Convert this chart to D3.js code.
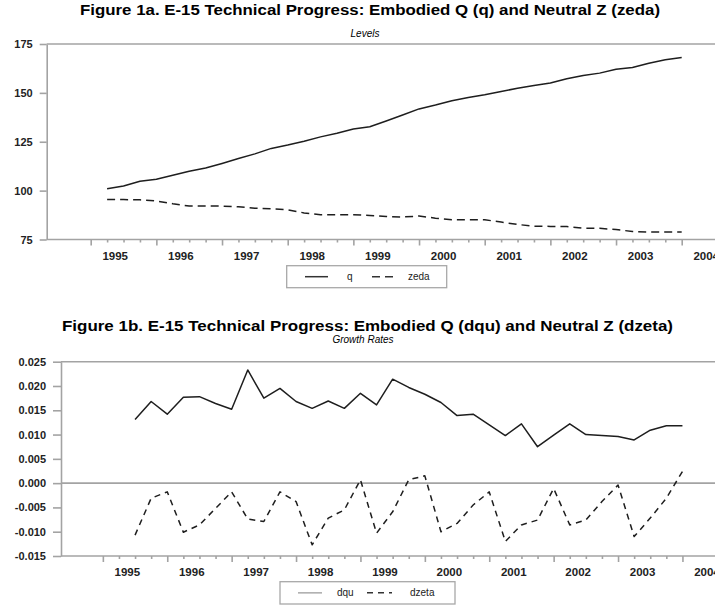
<!DOCTYPE html>
<html>
<head>
<meta charset="utf-8">
<script src="https://cdn.jsdelivr.net/npm/d3@7"></script>
<style>
  body { margin: 0; background: #fff; }
  svg { display: block; font-family: 'Liberation Sans', Arial, sans-serif; }
</style>
</head>
<body>
<div id="chart"></div>
<script>
// quarterly observations, 1995Q1 .. 2003Q4
const years = [1995, 1996, 1997, 1998, 1999, 2000, 2001, 2002, 2003];
const tickYears = [1995, 1996, 1997, 1998, 1999, 2000, 2001, 2002, 2003, 2004];
const quarters = years.flatMap((y) => [1, 2, 3, 4].map((q) => `${y}Q${q}`));

// levels
const qLevels = [101.0, 102.4, 104.8, 105.8, 107.9, 109.9, 111.6, 113.9, 116.4, 118.8, 121.6, 123.3,
  125.3, 127.5, 129.3, 131.5, 132.7, 135.6, 138.7, 141.8, 143.8, 146.0, 147.6, 149.0,
  150.7, 152.4, 153.8, 155.0, 157.2, 158.9, 160.1, 162.1, 163.0, 165.2, 166.9, 168.1];
const zedaLevels = [95.4, 95.4, 95.3, 94.7, 93.3, 92.1, 92.1, 92.1, 91.7, 91.0, 90.7, 90.2,
  88.6, 87.7, 87.7, 87.7, 87.3, 86.8, 86.5, 87.0, 85.9, 85.1, 85.1, 85.1,
  83.9, 82.7, 81.8, 81.7, 81.6, 80.8, 80.7, 80.1, 79.1, 78.8, 78.8, 78.8];

// growth rates (start 1995Q2)
const dquRates = [0.0131, 0.0168, 0.0142, 0.0177, 0.0178, 0.0164, 0.0152, 0.0233, 0.0175, 0.0195,
  0.0168, 0.0154, 0.0169, 0.0154, 0.0185, 0.0161, 0.0214, 0.0197, 0.0183, 0.0166,
  0.0139, 0.0142, 0.0120, 0.0098, 0.0122, 0.0075, 0.0099, 0.0122, 0.0100, 0.0098,
  0.0096, 0.0089, 0.0109, 0.0118, 0.0118];
const dzetaRates = [-0.0107, -0.0031, -0.0018, -0.0101, -0.0086, -0.0052, -0.0018, -0.0074, -0.0079, -0.0018,
  -0.0038, -0.0127, -0.0072, -0.0055, 0.0007, -0.0103, -0.0059, 0.0007, 0.0015, -0.0100,
  -0.0083, -0.0045, -0.0018, -0.0120, -0.0086, -0.0076, -0.0011, -0.0086, -0.0076, -0.0038,
  -0.0004, -0.0110, -0.0072, -0.0031, 0.0024];

const levelTicks = [75, 100, 125, 150, 175];
const rateTicks = [-0.015, -0.010, -0.005, 0.000, 0.005, 0.010, 0.015, 0.020, 0.025];

// 1995Q1 is plotted at the end of the quarter
const qTime = (label) => +label.slice(0, 4) + +label.slice(5) / 4;

const width = 715;
const height = 607;
const axisColor = '#a3a3a3';
const lineColor = '#1e1e1e';

const svg = d3.select('#chart')
  .append('svg')
  .attr('width', width)
  .attr('height', height);

function drawPanel(cfg) {
  const x = d3.scaleLinear().domain(cfg.xDomain).range(cfg.xRange);
  const y = d3.scaleLinear().domain(cfg.yDomain).range(cfg.yRange);
  const g = svg.append('g');

  g.append('text')
    .attr('x', cfg.titleX)
    .attr('y', cfg.titleY)
    .attr('text-anchor', 'middle')
    .attr('font-size', 14.5)
    .attr('font-weight', 'bold')
    .attr('textLength', cfg.titleLength)
    .attr('lengthAdjust', 'spacingAndGlyphs')
    .text(cfg.title);

  g.append('text')
    .attr('x', cfg.subX)
    .attr('y', cfg.subY)
    .attr('text-anchor', 'middle')
    .attr('font-size', 10)
    .attr('font-style', 'italic')
    .text(cfg.subtitle);

  // frame top line
  g.append('line')
    .attr('x1', cfg.xRange[0]).attr('x2', width)
    .attr('y1', cfg.yRange[1]).attr('y2', cfg.yRange[1])
    .attr('stroke', axisColor)
    .attr('stroke-width', 1.6);

  const yAxis = g.append('g')
    .attr('transform', `translate(${cfg.xRange[0]},0)`)
    .call(d3.axisLeft(y).tickValues(cfg.yTicks).tickSize(cfg.yTickSize)
      .tickPadding(cfg.yPad).tickFormat(cfg.yFormat).tickSizeOuter(0));
  yAxis.selectAll('text')
    .attr('font-size', 11)
    .attr('font-weight', 'bold')
    .attr('fill', '#222');

  const minor = [];
  years.forEach((yr) => { minor.push(yr + 0.25, yr + 0.5, yr + 0.75); });
  g.append('g')
    .attr('transform', `translate(0,${cfg.yRange[0]})`)
    .call(d3.axisBottom(x).tickValues(minor).tickSize(3).tickFormat(''))
    .call((a) => a.select('.domain').remove());

  const xAxis = g.append('g')
    .attr('transform', `translate(0,${cfg.yRange[0]})`)
    .call(d3.axisBottom(x).tickValues(tickYears).tickSize(6).tickPadding(6)
      .tickFormat(d3.format('d')).tickSizeOuter(0));
  xAxis.select('.domain').attr('d', `M${cfg.xRange[0]},0H${width}`);
  xAxis.selectAll('text')
    .attr('dx', 24)
    .attr('font-size', 11.5)
    .attr('font-weight', 'bold')
    .attr('fill', '#222');

  g.selectAll('.domain, .tick line')
    .attr('stroke', axisColor)
    .attr('stroke-width', 1.6);

  if (cfg.zeroLine) {
    g.append('line')
      .attr('x1', cfg.xRange[0]).attr('x2', width)
      .attr('y1', y(0)).attr('y2', y(0))
      .attr('stroke', axisColor)
      .attr('stroke-width', 1.6);
  }

  const line = d3.line()
    .x((d) => x(qTime(d.t)))
    .y((d) => y(d.v));

  cfg.series.forEach((s) => {
    g.append('path')
      .datum(s.labels.map((t, i) => ({ t, v: s.values[i] })))
      .attr('fill', 'none')
      .attr('stroke', lineColor)
      .attr('stroke-width', 1.5)
      .attr('stroke-dasharray', s.dash)
      .attr('stroke-linejoin', 'round')
      .attr('d', line);
  });

  // legend
  const lg = cfg.legend;
  g.append('rect')
    .attr('x', lg.x).attr('y', lg.y)
    .attr('width', lg.w).attr('height', lg.h)
    .attr('fill', '#fff')
    .attr('stroke', '#a8a8a8')
    .attr('stroke-width', 1.3);
  const cy = lg.y + lg.h / 2;
  cfg.series.forEach((s, i) => {
    const item = lg.items[i];
    g.append('line')
      .attr('x1', item.x1).attr('x2', item.x2)
      .attr('y1', cy).attr('y2', cy)
      .attr('stroke', item.color)
      .attr('stroke-width', 1.5)
      .attr('stroke-dasharray', s.dash);
    g.append('text')
      .attr('x', item.tx)
      .attr('y', cy + 3.5)
      .attr('font-size', 10)
      .attr('fill', '#222')
      .text(s.name);
  });
}

drawPanel({
  title: 'Figure 1a. E-15 Technical Progress: Embodied Q (q) and Neutral Z (zeda)',
  titleX: 370,
  titleY: 15,
  titleLength: 580,
  subtitle: 'Levels',
  subX: 365,
  subY: 37,
  xDomain: [1994.33, 2004.67],
  xRange: [46.7, 725.7],
  yDomain: [75, 175],
  yRange: [239.5, 44],
  yTicks: levelTicks,
  yTickSize: 7,
  yPad: 7,
  yFormat: d3.format('d'),
  zeroLine: false,
  series: [
    { name: 'q', labels: quarters, values: qLevels, dash: null },
    { name: 'zeda', labels: quarters, values: zedaLevels, dash: '8,5' },
  ],
  legend: {
    x: 286.7, y: 265.7, w: 160, h: 22,
    items: [
      { x1: 305, x2: 328, tx: 347, color: '#333' },
      { x1: 372, x2: 396, tx: 408, color: '#333' },
    ],
  },
});

drawPanel({
  title: 'Figure 1b. E-15 Technical Progress: Embodied Q (dqu) and Neutral Z (dzeta)',
  titleX: 367.5,
  titleY: 330.5,
  titleLength: 611,
  subtitle: 'Growth Rates',
  subX: 363,
  subY: 343,
  xDomain: [1994.35, 2004.65],
  xRange: [61, 724.3],
  yDomain: [-0.015, 0.025],
  yRange: [556, 361.7],
  yTicks: rateTicks,
  yTickSize: 8,
  yPad: 7,
  yFormat: (d) => d.toFixed(3),
  zeroLine: true,
  series: [
    { name: 'dqu', labels: quarters.slice(1), values: dquRates, dash: null },
    { name: 'dzeta', labels: quarters.slice(1), values: dzetaRates, dash: '6,5' },
  ],
  legend: {
    x: 280, y: 581.7, w: 175, h: 22.3,
    items: [
      { x1: 298, x2: 322, tx: 337, color: '#aaa' },
      { x1: 367, x2: 392, tx: 410, color: '#333' },
    ],
  },
});
</script>
</body>
</html>
